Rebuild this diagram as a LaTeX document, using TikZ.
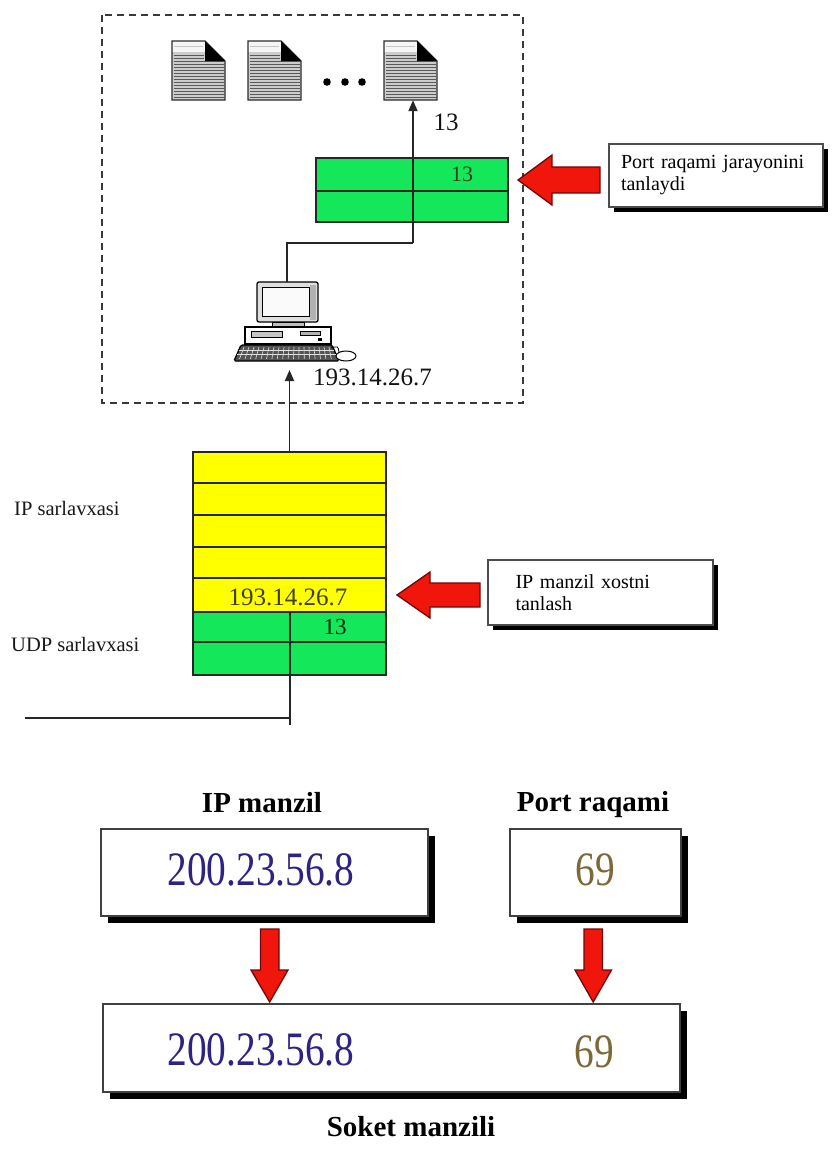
\documentclass[tikz,border=0pt]{standalone}
\usepackage{fontspec}
\setmainfont{Liberation Serif}
\usetikzlibrary{arrows.meta,calc,shadows}

\definecolor{pktyellow}{RGB}{255,255,0}
\definecolor{pktgreen}{RGB}{20,232,90}
\definecolor{hintred}{RGB}{240,22,12}
\definecolor{hintedge}{RGB}{110,8,8}
\definecolor{ipblue}{RGB}{45,35,130}
\definecolor{portbrown}{RGB}{125,105,55}
\definecolor{celltext}{RGB}{60,62,30}

% a file icon with a folded corner; #1 = node name, (#2,#3) = top-left corner
\newcommand\docsheet[3]{%
  \begin{scope}[shift={(#2,#3)}]
    \fill[gray!40] (0,0) -- (33,0) -- (53,20) -- (53,59) -- (0,59) -- cycle;
    \fill[gray!8] (0,0) rectangle (33,11);
    \draw[gray!45, line width=0.8] (1.5,5.5) -- (31,5.5);
    \foreach \k in {14,17,...,56}
      \draw[gray!70!black, line width=1] (1.5,\k) -- ({\k<20 ? 32 : 51.5},\k);
    \draw[gray!35!black, line width=1.4] (0,0) -- (33,0) -- (53,20) -- (53,59) -- (0,59) -- cycle;
    \fill[black] (33,0) -- (33,20) -- (53,20) -- cycle;
    \node[minimum width=53pt, minimum height=59pt, inner sep=0pt] (#1) at (26.5,29.5) {};
  \end{scope}}

\begin{document}
\begin{tikzpicture}[x=1pt, y=-1pt,
  wire/.style={line width=1.8pt, black!85},
  arr/.style={wire, -{Triangle[length=11pt, width=9pt]}},
  cell/.style={draw=black!85, line width=1.5pt},
  celllabel/.style={font=\fontsize{24}{24}\selectfont, text=celltext, inner sep=0pt},
  sidelabel/.style={font=\fontsize{20.5}{22}\selectfont, text=gray!20!black, anchor=west, inner sep=0pt},
  note/.style={draw=gray!60!black, fill=white, line width=1.2pt, align=left,
    font=\fontsize{20}{22}\selectfont, inner ysep=4pt,
    general shadow={fill=black, shadow xshift=5pt, shadow yshift=-5pt}},
  addrbox/.style={draw=gray!50!black, fill=white, line width=1.3pt, inner sep=0pt,
    general shadow={fill=black, shadow xshift=6.5pt, shadow yshift=-6.5pt}},
  bignum/.style={font=\fontsize{48}{48}\selectfont, inner sep=0pt},
  heading/.style={font=\bfseries\fontsize{29}{29}\selectfont, inner sep=0pt},
  hint/.style={fill=hintred, draw=hintedge, line width=1.3pt, line join=miter}
]
\useasboundingbox (0,0) rectangle (833,1151);
\fill[white] (0,0) rectangle (833,1151);

% ---------- receiving host ----------
\draw[gray!45!black, line width=1.6pt, dash pattern=on 7pt off 5pt] (102,15) rectangle (523,403);

\docsheet{docA}{172}{41}
\docsheet{docB}{248}{41}
\docsheet{docC}{384}{41}
\foreach \x [count=\i] in {327,345,362} \fill[black] (\x,82) circle (3.8) node (dot\i) {};

% port selection table
\node[minimum width=192pt, minimum height=64pt, inner sep=0pt] (portcells) at (412,190) {};
\fill[pktgreen] (316,158) rectangle (508,222);
\draw[cell] (316,158) rectangle (508,222);
\draw[cell] (316,191) -- (508,191);
\node[celllabel, font=\fontsize{22}{22}\selectfont] (portA) at (462,174) {13};

% computer
\node[minimum width=124pt, minimum height=80pt, inner sep=0pt] (pc) at (295,322) {};
\draw[line width=1.3pt, fill=gray!25, rounded corners=2pt] (257,282) rectangle (318,322);
\fill[gray!4] (262,287) rectangle (309,316);
\fill[gray!60] (310,285) rectangle (316,320);
\draw[line width=0.8pt] (262,287) rectangle (309,316);
\draw[line width=1pt, fill=gray!50] (272,322) rectangle (304,327);
\draw[line width=1.3pt, fill=white] (245,327) rectangle (331,344);
\draw[line width=0.6pt, fill=gray!45] (251,331) rectangle (282,337);
\draw[line width=0.6pt, fill=gray!60] (300,331) rectangle (320,335);
\fill[black] (318,338) rectangle (322,341);
\draw[line width=1.3pt, fill=gray!65!black, rounded corners=1.5pt]
  (241,345) -- (332,345) -- (339,361) -- (234,361) -- cycle;
\foreach \i in {0,...,17}
  \draw[gray!25, line width=0.6pt] ({244+5*\i},347) -- ({239.5+5.4*\i},359);
\draw[gray!25, line width=0.5pt] (239,350.5) -- (334,350.5) (237,354.5) -- (336,354.5);
\draw[line width=0.8pt] (331,348) .. controls (338,346) .. (339,352);
\draw[line width=1pt, fill=white] (346,356) ellipse [x radius=10, y radius=5];
\coordinate (pctop) at (287,282);
\coordinate (pcbase) at (290,370);

\node[font=\fontsize{25}{25}\selectfont, anchor=west, inner sep=0pt, text=gray!15!black] (hostip) at (313,377) {193.14.26.7};

% path from the computer to the process
\coordinate (bend) at (413,243);
\draw[wire] (pctop) |- (bend);
\draw[arr] (bend) -- (bend |- docC.south);
\node[font=\fontsize{25}{25}\selectfont, inner sep=0pt, text=gray!15!black] (procport) at (446,122) {13};

% port hint
\node[note, minimum width=214pt, minimum height=63pt, text width=190pt, inner xsep=12pt] (note1) at (716,175.5)
  {Port raqami jarayonini\\tanlaydi};
\draw[hint] (518,180) -- (552,155) -- (552,167) -- (600,167) -- (600,193) -- (552,193) -- (552,205) -- cycle;

% ---------- incoming datagram ----------
\node[minimum width=193pt, minimum height=223pt, inner sep=0pt] (pkt) at (289.5,563.5) {};
\fill[pktyellow] (193,452) rectangle (386,612);
\fill[pktgreen] (193,612) rectangle (386,675);
\draw[cell] (193,452) rectangle (386,675);
\foreach \y in {483,515,547,578,612,642} \draw[cell] (193,\y) -- (386,\y);
\node[celllabel, font=\fontsize{25}{25}\selectfont] (pktip) at (288,597) {193.14.26.7};
\node[celllabel, font=\fontsize{23}{23}\selectfont, text=black!70!green!40!black] (pktport) at (335,627) {13};

\draw[arr] (pkt.north) -- (pkt.north |- pcbase);
\coordinate (wireend) at (290,725);
\coordinate (wireleft) at (25,718);
\draw[wire] (290,612) -- (wireend);
\draw[wire] (wireleft) -- (wireleft -| wireend);

\node[sidelabel] (iphdr) at (14,508) {IP sarlavxasi};
\node[sidelabel] (udphdr) at (11,644) {UDP sarlavxasi};

% host hint
\node[note, minimum width=225pt, minimum height=65pt, text width=170pt, inner xsep=27.5pt] (note2) at (600.5,592.5)
  {IP manzil xostni\\tanlash};
\draw[hint] (397,595) -- (430,572) -- (430,583) -- (480,583) -- (480,607) -- (430,607) -- (430,618) -- cycle;

% ---------- socket address ----------
\node[heading] (iptitle) at (262,803) {IP manzil};
\node[heading] (porttitle) at (593,805) {Port raqami};

\node[addrbox, minimum width=327pt, minimum height=87pt] (ipbox) at (264.5,872.5) {};
\node[bignum, text=ipblue] (ipval) at (261,870) {\scalebox{0.82}[1]{200.23.56.8}};
\node[addrbox, minimum width=171pt, minimum height=87pt] (portbox) at (595.5,872.5) {};
\node[bignum, text=portbrown] (portval) at (595,870) {\scalebox{0.82}[1]{69}};

\draw[hint] (260.5,929) -- (279,929) -- (279,970) -- (288,970) -- (269.7,1002) -- (251,970) -- (260.5,970) -- cycle;
\draw[hint] (584,929) -- (602.5,929) -- (602.5,970) -- (611.5,970) -- (593.2,1002) -- (575,970) -- (584,970) -- cycle;

\node[addrbox, minimum width=577pt, minimum height=88pt] (sockbox) at (391.5,1048) {};
\node[bignum, text=ipblue] (sockip) at (261,1050) {\scalebox{0.82}[1]{200.23.56.8}};
\node[bignum, text=portbrown] (sockport) at (594,1052) {\scalebox{0.82}[1]{69}};

\node[heading] (socktitle) at (411,1127) {Soket manzili};
\end{tikzpicture}
\end{document}
